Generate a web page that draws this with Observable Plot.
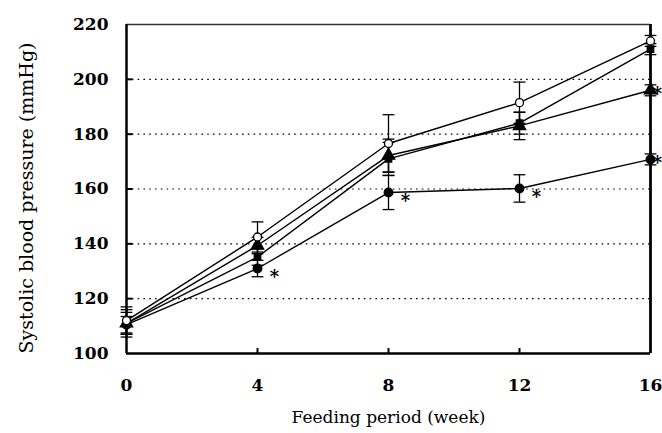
<!DOCTYPE html>
<html>
<head>
<meta charset="utf-8">
<script src="https://cdn.jsdelivr.net/npm/d3@7"></script>
<script src="https://cdn.jsdelivr.net/npm/@observablehq/plot@0.6"></script>
<style>
  html, body { margin: 0; padding: 0; background: #fff; }
  #chart svg { display: block; }
</style>
</head>
<body>
<div id="chart"></div>
<script>
const weeks = [0, 4, 8, 12, 16];
const yTicks = [100, 120, 140, 160, 180, 200, 220];
const gridValues = [120, 140, 160, 180, 200];

const seriesNames = ["open circle", "triangle", "square", "filled circle"];
const openMean = [112, 142.5, 176.6, 191.5, 214];
const openErr  = [5, 5.5, 10.5, 7.5, 2];
const triMean  = [111, 139.4, 172.2, 183, 196];
const triErr   = [4, 3, 6, 5, 2];
const sqMean   = [111, 135.2, 171, 184, 211];
const sqErr    = [5, 3, 6, 4, 2];
const cirMean  = [110.5, 131, 158.7, 160.2, 170.8];
const cirErr   = [3, 3, 6.2, 5, 2];

// significance marks: [series index, week]
const sigMarks = [[3, 4], [3, 8], [3, 12], [3, 16], [1, 16]];

const means = [openMean, triMean, sqMean, cirMean];
const errs = [openErr, triErr, sqErr, cirErr];
const symbols = ["circle", "triangle", "square", "circle"];
const fills = ["white", "black", "black", "black"];
const radii = [4, 4.6, 3.6, 4.3];

const data = [];
means.forEach((m, s) => m.forEach((v, i) => data.push({
  s, name: seriesNames[s], w: weeks[i], v, e: errs[s][i]
})));
const sig = sigMarks.map(([s, w]) => ({w, v: means[s][weeks.indexOf(w)], edge: w === 16}));

const capW = 0.18;
const font = "DejaVu Serif";

const marks = [
  // dotted gridlines
  Plot.ruleY(gridValues, {stroke: "black", strokeWidth: 1.2, strokeDasharray: "1.6,4.2"}),
  // inward ticks
  Plot.ruleY(gridValues, {x1: 0, x2: 0.2, stroke: "black", strokeWidth: 2}),
  Plot.ruleX(weeks.slice(1, 4), {y1: 100, y2: 101.8, stroke: "black", strokeWidth: 2}),
  // frame
  Plot.ruleY([220], {stroke: "#333", strokeWidth: 1.3}),
  Plot.ruleX([0], {stroke: "black", strokeWidth: 2.5}),
  Plot.ruleX([16], {stroke: "black", strokeWidth: 2.8}),
  Plot.ruleY([100], {stroke: "black", strokeWidth: 2.5}),
  // error bars
  Plot.ruleX(data, {x: "w", y1: d => d.v - d.e, y2: d => d.v + d.e, stroke: "black", strokeWidth: 1.3}),
  Plot.link(data, {x1: d => d.w - capW, x2: d => d.w + capW, y1: d => d.v + d.e, y2: d => d.v + d.e, stroke: "black", strokeWidth: 1.3}),
  Plot.link(data, {x1: d => d.w - capW, x2: d => d.w + capW, y1: d => d.v - d.e, y2: d => d.v - d.e, stroke: "black", strokeWidth: 1.3}),
  // lines
  Plot.line(data, {x: "w", y: "v", z: "s", stroke: "black", strokeWidth: 1.4}),
];
// markers
[3, 2, 1, 0].forEach(s => {
  marks.push(Plot.dot(data.filter(d => d.s === s), {
    x: "w", y: "v", symbol: () => symbols[s], r: radii[s],
    fill: fills[s], stroke: "black", strokeWidth: 1.3
  }));
});
marks.push(
  Plot.text(sig.filter(d => !d.edge), {x: "w", y: "v", text: () => "*", dx: 17, dy: 9, fontSize: 18, fontWeight: "bold", fontFamily: font, fill: "black"}),
  Plot.text(sig.filter(d => d.edge), {x: "w", y: "v", text: () => "*", dx: 7, dy: 4, fontSize: 18, fontWeight: "bold", fontFamily: font, fill: "black"}),
  Plot.axisY({ticks: yTicks, tickSize: 0, tickPadding: 18, fontSize: 17, fontWeight: "bold", fontFamily: font, label: null}),
  Plot.axisX({ticks: weeks, tickSize: 0, tickPadding: 25, fontSize: 17, fontWeight: "bold", fontFamily: font, label: null}),
  Plot.text(["Systolic blood pressure (mmHg)"], {frameAnchor: "left", textAnchor: "middle", dx: -100, dy: 9, rotate: -90, fontSize: 19, fontFamily: font, fill: "black"}),
  Plot.text(["Feeding period (week)"], {frameAnchor: "bottom", dy: 69, fontSize: 17, fontFamily: font, fill: "black"})
);

const chart = Plot.plot({
  width: 662,
  height: 433,
  marginLeft: 126,
  marginRight: 12,
  marginTop: 24,
  marginBottom: 80,
  style: {fontFamily: font, color: "black", background: "white", overflow: "visible"},
  x: {domain: [0, 16]},
  y: {domain: [100, 220]},
  marks
});
document.getElementById("chart").appendChild(chart);
</script>
</body>
</html>
